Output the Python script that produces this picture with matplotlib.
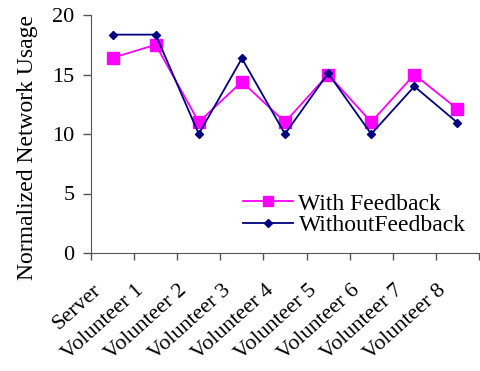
import matplotlib
matplotlib.use("Agg")
import matplotlib.pyplot as plt
from matplotlib.transforms import ScaledTranslation
import numpy as np

categories = ["Server", "Volunteer 1", "Volunteer 2", "Volunteer 3", "Volunteer 4",
              "Volunteer 5", "Volunteer 6", "Volunteer 7", "Volunteer 8"]
with_feedback = [16.4, 17.5, 11.0, 14.4, 11.0, 15.0, 11.0, 15.0, 12.1]
without_feedback = [18.35, 18.35, 10.0, 16.35, 10.0, 15.1, 10.0, 14.0, 10.95]
y_ticks = [0, 5, 10, 15, 20]

plt.rcParams["font.family"] = "Liberation Serif"

W, H = 481, 371
fig = plt.figure(figsize=(W / 100, H / 100), dpi=100)
ax = fig.add_axes([91 / W, (H - 253) / H, 388 / W, 238 / H])

x = np.arange(len(categories))
ax.plot(x, with_feedback, color="#FF00FF", marker="s", markersize=8, lw=1.3,
        label="With Feedback")
ax.plot(x, without_feedback, color="#000080", marker="D", markersize=4.5, lw=1.3,
        label="WithoutFeedback")

ax.set_xlim(-0.5, len(categories) - 0.5)
ax.set_ylim(0, 20)
ax.set_yticks(y_ticks)

# category boundaries carry the tick marks, category centres carry the labels
ax.set_xticks(np.arange(len(categories) + 1) - 0.5)
ax.set_xticklabels([])
ax.set_xticks(x, minor=True)
ax.set_xticklabels(categories, minor=True, rotation=42, ha="right", va="center",
                   rotation_mode="anchor", fontsize=16)
ax.tick_params(axis="x", which="minor", length=0, pad=25)
ax.tick_params(axis="x", which="major", direction="out", length=5, width=1,
               color="#555555")
ax.tick_params(axis="y", direction="out", length=6, width=1, color="#555555",
               labelsize=16, pad=6)
shift = ScaledTranslation(-14 / 100, 0, fig.dpi_scale_trans)
for lab in ax.get_xticklabels(minor=True):
    lab.set_transform(lab.get_transform() + shift)

for side in ("top", "right"):
    ax.spines[side].set_visible(False)
for side in ("left", "bottom"):
    ax.spines[side].set_color("#555555")

ax.set_ylabel("Normalized Network Usage", fontsize=17)
ax.yaxis.set_label_coords(38 / W, (H - 147) / H, transform=fig.transFigure)

ax.legend(loc="center left", frameon=False, fontsize=17, handlelength=2.1,
          handletextpad=0.25, labelspacing=0.0, borderpad=0, borderaxespad=0,
          markerscale=0.9,
          bbox_to_anchor=(243 / W, (H - 214.5) / H), bbox_transform=fig.transFigure)

fig.savefig("out.png", dpi=100)
